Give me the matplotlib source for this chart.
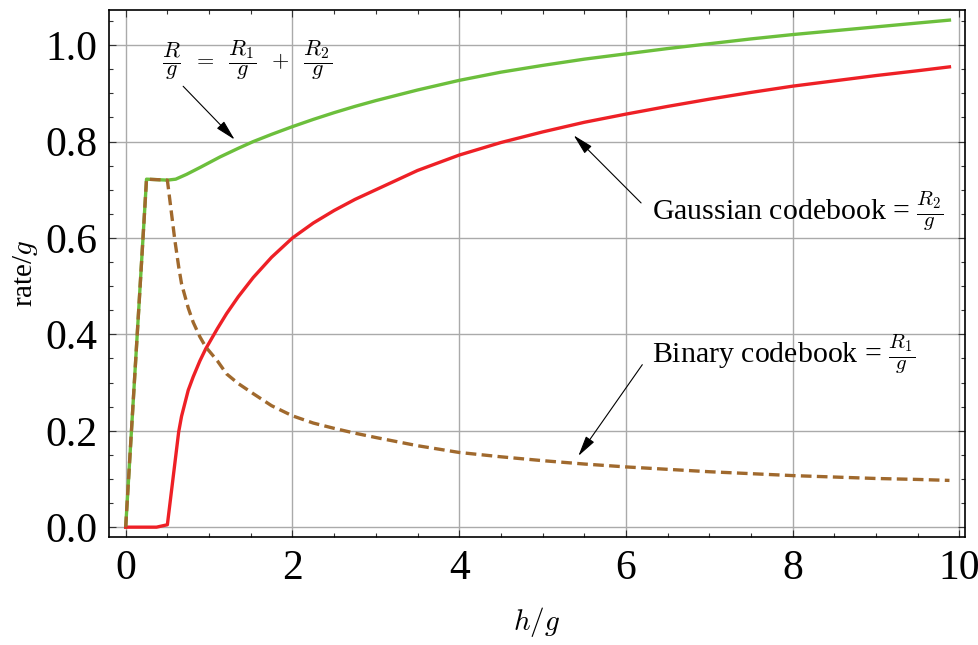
import numpy as np
import matplotlib
matplotlib.use('Agg')
from matplotlib import pyplot as plt
from matplotlib.ticker import MultipleLocator, FormatStrFormatter

plt.rcParams['font.family'] = 'Liberation Serif'
plt.rcParams['mathtext.fontset'] = 'cm'

# values
tail_h = [3.5, 4.0, 4.5, 5.0, 5.5, 6.0, 6.5, 7.0, 7.5, 8.0, 8.5, 9.0, 9.5, 9.88]

h_bin = [0, 0.25, 0.5, 0.59, 0.636, 0.67, 0.75, 0.81, 0.89, 0.96, 1.1, 1.21,
         1.35, 1.53, 1.75, 2.0, 2.25, 2.5, 2.75, 3.0] + tail_h
binary = [0, 0.722, 0.72, 0.595, 0.54, 0.505, 0.455, 0.425, 0.395, 0.374,
          0.345, 0.318, 0.298, 0.277, 0.252, 0.231, 0.216, 0.205, 0.195, 0.186,
          0.169, 0.155, 0.146, 0.138, 0.131, 0.125, 0.120, 0.115, 0.111,
          0.107, 0.104, 0.101, 0.099, 0.097]

h_gauss = [0, 0.37, 0.5, 0.636, 0.67, 0.75, 0.81, 0.89, 0.96, 1.1, 1.21, 1.35,
           1.53, 1.75, 2.0, 2.25, 2.5, 2.75, 3.0] + tail_h
gauss = [0, 0.0, 0.005, 0.198, 0.23, 0.284, 0.312, 0.345, 0.37, 0.412, 0.443,
         0.478, 0.518, 0.56, 0.6, 0.631, 0.657, 0.68, 0.70,
         0.74, 0.772, 0.798, 0.82, 0.84, 0.857, 0.873, 0.888, 0.902, 0.915,
         0.926, 0.937, 0.947, 0.955]

h_total = [0, 0.25, 0.5, 0.6, 0.73, 0.9, 1.13, 1.35, 1.53, 1.75, 2.0, 2.25,
           2.5, 2.75, 3.0] + tail_h
total = [0, 0.722, 0.72, 0.722, 0.732, 0.747, 0.768, 0.786, 0.80, 0.815,
         0.831, 0.846, 0.86, 0.873, 0.885, 0.907, 0.927, 0.944, 0.958,
         0.971, 0.982, 0.993, 1.003, 1.013, 1.022, 1.030, 1.038, 1.046, 1.052]

fig = plt.figure(figsize=(9.79, 6.45), dpi=100)
ax = fig.add_axes([0.111, 0.167, 0.875, 0.8175])

ax.plot(h_total, total, color='#6cbf3c', lw=2.4, zorder=3)
ax.plot(h_gauss, gauss, color='#ee2026', lw=2.4, zorder=3)
ax.plot(h_bin, binary, color='#a0692d', lw=2.4, ls=(0, (3.2, 1.6)), zorder=4)

ax.set_xlim(-0.204, 10.07)
ax.set_ylim(-0.021, 1.073)
ax.xaxis.set_major_locator(MultipleLocator(2))
ax.xaxis.set_minor_locator(MultipleLocator(0.5))
ax.yaxis.set_major_locator(MultipleLocator(0.2))
ax.yaxis.set_minor_locator(MultipleLocator(0.05))
ax.yaxis.set_major_formatter(FormatStrFormatter('%.1f'))
ax.tick_params(which='both', direction='in', top=True, right=True,
               labelsize=30, width=0.8, color='#333333')
ax.tick_params(which='major', length=5)
ax.tick_params(which='minor', length=3)
ax.tick_params(axis='x', pad=9)
ax.tick_params(axis='y', pad=8)
ax.grid(True, which='major', color='#aaaaaa', lw=1.0)
ax.set_axisbelow(True)
for s in ax.spines.values():
    s.set_linewidth(1.2)

ax.set_xlabel('$h/g$', fontsize=21, labelpad=12)
ax.set_ylabel('rate/$g$', fontsize=21, labelpad=4)

arrow = dict(arrowstyle='-|>,head_length=0.9,head_width=0.22', color='black',
             lw=0.8, mutation_scale=14)
ax.annotate(r'$\dfrac{R}{g}\;\;=\;\;\dfrac{R_1}{g}\;\;+\;\;\dfrac{R_2}{g}$',
            xy=(1.33, 0.80), xytext=(0.43, 0.97), fontsize=16,
            ha='left', va='center', arrowprops=dict(arrow, relpos=(0.1, 0.0)))
ax.annotate(r'Gaussian codebook = $\frac{R_2}{g}$',
            xy=(5.35, 0.817), xytext=(6.31, 0.655), fontsize=21.5,
            ha='left', va='center', arrowprops=dict(arrow, relpos=(-0.03, 0.65)))
ax.annotate(r'Binary codebook = $\frac{R_1}{g}$',
            xy=(5.41, 0.143), xytext=(6.31, 0.36), fontsize=21.5,
            ha='left', va='center', arrowprops=dict(arrow, relpos=(-0.03, 0.3)))

fig.savefig('out.png', dpi=100)
